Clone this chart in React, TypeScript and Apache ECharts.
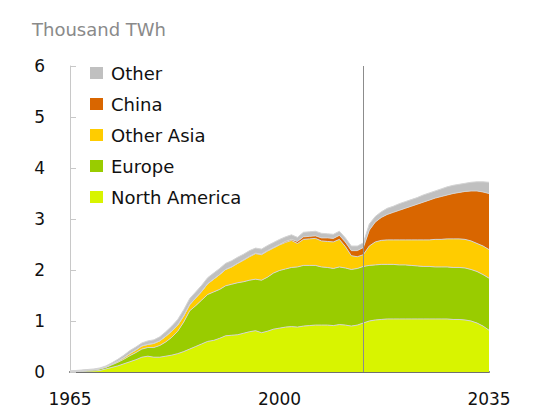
import React, { useEffect, useRef } from "react";
import * as echarts from "echarts";

const years: string[] = Array.from({ length: 71 }, (_, i) => String(1965 + i));

// Thousand TWh, 1965..2035
const northAmerica = [
  0.005, 0.01, 0.01, 0.015, 0.02, 0.03, 0.06, 0.09, 0.12, 0.16,
  0.2, 0.24, 0.29, 0.31, 0.29, 0.29, 0.31, 0.33, 0.36, 0.4,
  0.45, 0.5, 0.55, 0.6, 0.62, 0.66, 0.71, 0.72, 0.73, 0.76,
  0.79, 0.81, 0.77, 0.8, 0.84, 0.86, 0.88, 0.89, 0.88, 0.9,
  0.91, 0.92, 0.92, 0.92, 0.91, 0.93, 0.92, 0.9, 0.92, 0.96,
  1.0, 1.02, 1.03, 1.04, 1.04, 1.04, 1.04, 1.04, 1.04, 1.04,
  1.04, 1.04, 1.04, 1.04, 1.03, 1.03, 1.02, 1.0, 0.96, 0.9,
  0.82,
];
const europe = [
  0.01, 0.01, 0.02, 0.02, 0.02, 0.03, 0.03, 0.05, 0.07, 0.09,
  0.12, 0.14, 0.16, 0.17, 0.19, 0.23, 0.28, 0.35, 0.44, 0.58,
  0.75, 0.8, 0.86, 0.92, 0.95, 0.96, 0.98, 1.0, 1.02, 1.01,
  1.01, 1.01, 1.03, 1.06, 1.1, 1.13, 1.14, 1.16, 1.18, 1.19,
  1.18, 1.17, 1.14, 1.13, 1.12, 1.13, 1.12, 1.11, 1.11, 1.11,
  1.09, 1.08, 1.08, 1.07, 1.07, 1.06, 1.06, 1.05, 1.04, 1.03,
  1.03, 1.02, 1.02, 1.02, 1.02, 1.02, 1.02, 1.01, 1.01, 1.01,
  1.02,
];
const otherAsia = [
  0, 0, 0, 0.005, 0.005, 0.005, 0.01, 0.01, 0.02, 0.03,
  0.04, 0.05, 0.06, 0.06, 0.08, 0.09, 0.11, 0.12, 0.12, 0.12,
  0.12, 0.15, 0.17, 0.21, 0.25, 0.29, 0.32, 0.34, 0.38, 0.42,
  0.46, 0.5, 0.5, 0.51, 0.49, 0.5, 0.52, 0.53, 0.46, 0.51,
  0.52, 0.53, 0.51, 0.51, 0.52, 0.54, 0.42, 0.27, 0.23, 0.23,
  0.38, 0.45, 0.47, 0.48, 0.48, 0.49, 0.49, 0.5, 0.51, 0.52,
  0.52, 0.54, 0.54, 0.55, 0.56, 0.56, 0.56, 0.56, 0.55, 0.56,
  0.56,
];
const china = [
  0, 0, 0, 0, 0, 0, 0, 0, 0, 0,
  0, 0, 0, 0, 0, 0, 0, 0, 0, 0,
  0, 0, 0, 0, 0, 0, 0, 0, 0, 0.01,
  0.01, 0.01, 0.01, 0.01, 0.01, 0.01, 0.02, 0.02, 0.04, 0.05,
  0.05, 0.05, 0.06, 0.07, 0.07, 0.08, 0.09, 0.1, 0.12, 0.14,
  0.31, 0.39, 0.45, 0.5, 0.54, 0.58, 0.62, 0.66, 0.7, 0.74,
  0.78, 0.81, 0.84, 0.86, 0.89, 0.91, 0.94, 0.98, 1.03, 1.06,
  1.1,
];
const other = [
  0.005, 0.01, 0.01, 0.01, 0.015, 0.015, 0.02, 0.03, 0.04, 0.05,
  0.06, 0.06, 0.06, 0.07, 0.07, 0.08, 0.09, 0.1, 0.11, 0.12,
  0.12, 0.12, 0.12, 0.12, 0.12, 0.12, 0.12, 0.12, 0.12, 0.11,
  0.11, 0.1, 0.1, 0.1, 0.1, 0.1, 0.09, 0.09, 0.08, 0.09,
  0.09, 0.09, 0.09, 0.08, 0.08, 0.08, 0.08, 0.09, 0.09, 0.09,
  0.12, 0.11, 0.11, 0.12, 0.12, 0.13, 0.13, 0.13, 0.13, 0.14,
  0.14, 0.14, 0.15, 0.16, 0.16, 0.16, 0.16, 0.17, 0.18, 0.2,
  0.22,
];

const xLabelYears = ["1965", "2000", "2035"];
const outlookStart = "2014";

const FONT = "DejaVu Sans";

export default function App() {
  const ref = useRef<HTMLDivElement>(null);

  useEffect(() => {
    if (!ref.current) return;
    const chart = echarts.init(ref.current, null, { renderer: "svg" });

    const mk = (name: string, values: number[], color: string, extra: any = {}) => ({
      name,
      type: "line",
      stack: "total",
      symbol: "none",
      showSymbol: false,
      color,
      itemStyle: { color },
      lineStyle: { width: 1, color: "#d4d4d4" },
      areaStyle: { color, opacity: 1 },
      emphasis: { disabled: true },
      data: values,
      ...extra,
    });

    chart.setOption({
      animation: false,
      textStyle: { fontFamily: FONT },
      title: {
        text: "Thousand TWh",
        left: 27,
        top: 15,
        textStyle: { color: "#8a8a8a", fontSize: 18, fontWeight: "normal", fontFamily: FONT },
      },
      legend: {
        orient: "vertical",
        left: 85,
        top: 58,
        icon: "rect",
        itemWidth: 13,
        itemHeight: 12,
        itemGap: 11,
        itemStyle: { borderWidth: 0 },
        data: ["Other", "China", "Other Asia", "Europe", "North America"],
        textStyle: { fontSize: 18, color: "#111", lineHeight: 20, fontFamily: FONT, padding: [0, 0, 0, 3] },
      },
      grid: { left: 70, right: 47, top: 66, bottom: 39, containLabel: false, outerBoundsMode: "none" },
      xAxis: {
        type: "category",
        data: years,
        boundaryGap: false,
        axisLine: { show: true, lineStyle: { color: "#707070", width: 2 } },
        axisTick: { show: false },
        splitLine: { show: false },
        axisLabel: {
          interval: (_i: number, v: string) => xLabelYears.includes(v),
          fontSize: 17,
          color: "#111",
          margin: 18,
          fontFamily: FONT,
        },
      },
      yAxis: {
        type: "value",
        min: 0,
        max: 6,
        interval: 1,
        axisLine: { show: true, lineStyle: { color: "#c8c8c8", width: 1 } },
        axisTick: { show: true, inside: true, length: 6, lineStyle: { color: "#c8c8c8" } },
        splitLine: { show: false },
        axisLabel: { fontSize: 17, color: "#111", margin: 25, fontFamily: FONT },
      },
      series: [
        mk("North America", northAmerica, "#d8f400"),
        mk("Europe", europe, "#99cc00"),
        mk("Other Asia", otherAsia, "#ffcc00"),
        mk("China", china, "#d96600"),
        mk("Other", other, "#c0c0c0", {
          markLine: {
            silent: true,
            symbol: ["none", "none"],
            label: { show: false },
            lineStyle: { color: "#8c8c8c", width: 1, type: "solid" },
            data: [{ xAxis: outlookStart }],
          },
        }),
      ],
    });

    return () => chart.dispose();
  }, []);

  return (
    <div
      ref={ref}
      style={{ position: "fixed", left: 0, top: 0, width: 536, height: 411, background: "#fff" }}
    />
  );
}
